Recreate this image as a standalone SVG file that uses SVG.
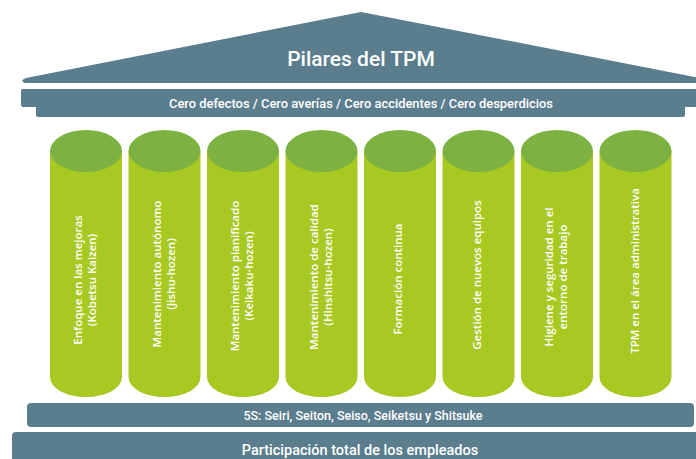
<svg xmlns="http://www.w3.org/2000/svg" width="696" height="459" viewBox="0 0 696 459">
  <style>
    .slate { fill: #5a7e8d; }
    .body { fill: #a8c822; }
    .cap { fill: #7db243; }
    .lbl { font-family: "Open Sans", "Liberation Sans", sans-serif; font-size: 11.5px; font-weight: 600; fill: #ffffff; text-anchor: middle; }
    .band { font-family: Roboto, "Liberation Sans", sans-serif; font-weight: 500; fill: #ffffff; text-anchor: middle; }
  </style>
  <defs>
    <!-- one pillar: shaft with rounded foot and a darker elliptical top -->
    <g id="pillar">
      <path class="body" d="M -36,151 L 36,151 L 36,377 A 36,20 0 0 1 -36,377 Z"/>
      <ellipse class="cap" cx="0" cy="151" rx="36" ry="21"/>
    </g>
  </defs>

  <rect width="696" height="459" fill="#ffffff"/>

  <!-- roof -->
  <g id="roof">
    <path class="slate" d="M 26,78 L 361,12 L 700,78 L 700,83 L 25,83 Q 19,81 26,78 Z"/>
    <text class="band" x="361" y="66" font-size="21">Pilares del TPM</text>
  </g>

  <!-- frieze -->
  <g id="frieze">
    <rect class="slate" x="21" y="89" width="690" height="18" rx="2"/>
    <rect class="slate" x="36" y="95" width="649" height="22" rx="2"/>
    <text class="band" x="361" y="107.5" font-size="12.9">Cero defectos / Cero averías / Cero accidentes / Cero desperdicios</text>
  </g>

  <!-- pillars -->
  <g id="pillar-1" transform="translate(86,0)">
    <use href="#pillar"/>
    <text class="lbl" transform="translate(0,280) rotate(-90)"><tspan x="0" y="-4">Enfoque en las mejoras</tspan><tspan x="0" y="10">(Kobetsu Kaizen)</tspan></text>
  </g>
  <g id="pillar-2" transform="translate(164.5,0)">
    <use href="#pillar"/>
    <text class="lbl" transform="translate(0,274) rotate(-90)"><tspan x="0" y="-4">Mantenimiento autónomo</tspan><tspan x="0" y="10">(Jishu-hozen)</tspan></text>
  </g>
  <g id="pillar-3" transform="translate(243,0)">
    <use href="#pillar"/>
    <text class="lbl" transform="translate(0,276) rotate(-90)"><tspan x="0" y="-4">Mantenimiento planificado</tspan><tspan x="0" y="10">(Keikaku-hozen)</tspan></text>
  </g>
  <g id="pillar-4" transform="translate(321.5,0)">
    <use href="#pillar"/>
    <text class="lbl" transform="translate(0,277) rotate(-90)"><tspan x="0" y="-4">Mantenimiento de calidad</tspan><tspan x="0" y="10">(Hinshitsu-hozen)</tspan></text>
  </g>
  <g id="pillar-5" transform="translate(400,0)">
    <use href="#pillar"/>
    <text class="lbl" transform="translate(0,279) rotate(-90)"><tspan x="0" y="2">Formación continua</tspan></text>
  </g>
  <g id="pillar-6" transform="translate(478.5,0)">
    <use href="#pillar"/>
    <text class="lbl" transform="translate(0,275) rotate(-90)"><tspan x="0" y="2">Gestión de nuevos equipos</tspan></text>
  </g>
  <g id="pillar-7" transform="translate(557,0)">
    <use href="#pillar"/>
    <text class="lbl" transform="translate(0,277) rotate(-90)"><tspan x="0" y="-4">Higiene y seguridad en el</tspan><tspan x="0" y="10">entorno de trabajo</tspan></text>
  </g>
  <g id="pillar-8" transform="translate(635.5,0)">
    <use href="#pillar"/>
    <text class="lbl" transform="translate(0,271) rotate(-90)"><tspan x="0" y="3">TPM en el área administrativa</tspan></text>
  </g>

  <!-- base steps -->
  <g id="step-5s">
    <rect class="slate" x="27" y="403" width="667" height="24" rx="4"/>
    <text class="band" x="363" y="419.5" font-size="12.5">5S: Seiri, Seiton, Seiso, Seiketsu y Shitsuke</text>
  </g>
  <g id="step-participacion">
    <rect class="slate" x="12" y="432" width="700" height="40" rx="4"/>
    <text class="band" x="360" y="454.5" font-size="14.5">Participación total de los empleados</text>
  </g>
</svg>
